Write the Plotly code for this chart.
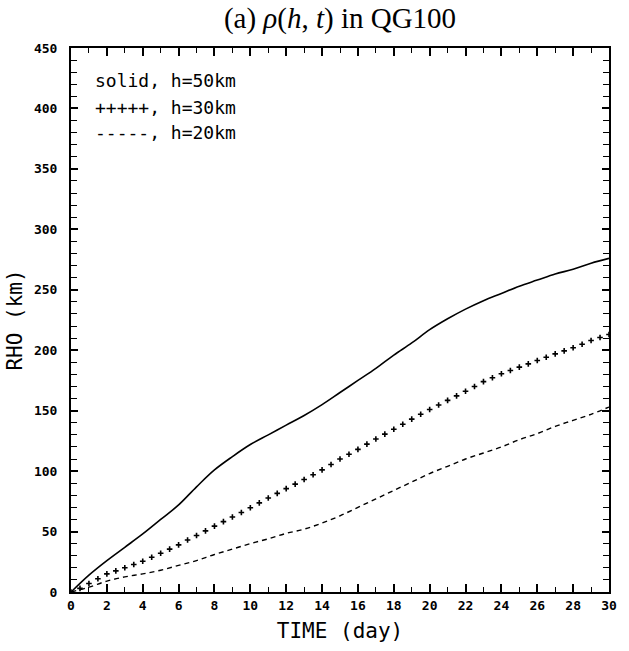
import plotly.graph_objects as go

# Data
t_days = list(range(0, 31))
rho_h50 = [0, 14, 26, 37, 48, 60, 72, 87, 101, 112, 122, 130, 138, 146, 155, 165,
           175, 185, 196, 206, 217, 226, 234, 241, 247, 253, 258, 263, 267, 272, 276]
rho_h20 = [0, 4, 9, 12.5, 15, 18, 22, 26, 31, 35.5, 40, 44, 48.5, 52, 57, 63,
           70, 77, 84, 91, 98, 104, 110, 115, 120, 126, 131, 137, 142, 147, 153]
t_half = [i * 0.5 for i in range(61)]
rho_h30 = [0, 3, 7, 11, 15, 17.5, 20, 22.7, 25.4, 28.7, 32, 35.5, 39, 43, 46.7, 50.6,
           54.5, 58.2, 62, 65.8, 69.7, 73.7, 77.7, 81.6, 85.5, 89.2, 93, 97, 101, 105.5,
           110, 114, 118, 122.3, 126.6, 130.6, 134.6, 138.8, 143, 147, 151, 154.7, 158.5,
           162.2, 166, 170, 174, 177.2, 180.5, 183.2, 186, 188.7, 191.5, 194.2, 197,
           199.5, 202, 205, 208, 210.5, 213]

legend_lines = ["solid, h=50km", "+++++, h=30km", "-----, h=20km"]
legend_y = [423, 401, 380]

fig = go.Figure()
fig.add_trace(go.Scatter(x=t_days, y=rho_h50, mode="lines",
                         line=dict(color="black", width=1.6), line_shape="spline"))
fig.add_trace(go.Scatter(x=t_half, y=rho_h30, mode="markers",
                         marker=dict(symbol="cross-thin", size=4, color="black",
                                     line=dict(color="black", width=1.6))))
fig.add_trace(go.Scatter(x=t_days, y=rho_h20, mode="lines", line_shape="spline",
                         line=dict(color="black", width=1.4, dash="5px,4px")))

for txt, yy in zip(legend_lines, legend_y):
    fig.add_annotation(x=1.2, y=yy, xref="x", yref="y", text=txt, showarrow=False,
                       xanchor="left", yanchor="middle",
                       font=dict(family="DejaVu Sans Mono", size=18, color="black"))

tickfont = dict(family="DejaVu Sans Mono", size=13, color="black", weight="bold")
fig.update_layout(
    width=629, height=651,
    margin=dict(l=71, r=12, t=48, b=57),
    paper_bgcolor="white", plot_bgcolor="white",
    showlegend=False,
    title=dict(text="(a) <i>ρ</i>(<i>h</i>, <i>t</i>) in QG100", xref="paper", x=0.5,
               xanchor="center", yref="container", y=0.988, yanchor="top",
               font=dict(family="Liberation Serif", size=29, color="black")),
    xaxis=dict(range=[0, 30], tick0=0, dtick=2, ticks="inside", ticklen=8, tickwidth=1.5,
               tickcolor="black", showline=True, linecolor="black", linewidth=2,
               mirror="allticks", showgrid=False, zeroline=False, tickfont=tickfont,
               minor=dict(dtick=1, ticks="inside", ticklen=5, tickcolor="black", tickwidth=1),
               title=dict(text="TIME (day)", standoff=12,
                          font=dict(family="DejaVu Sans Mono", size=21, color="black"))),
    yaxis=dict(range=[0, 450], tick0=0, dtick=50, ticks="inside", ticklen=7, tickwidth=1.5,
               tickcolor="black", showline=True, linecolor="black", linewidth=2,
               mirror="allticks", showgrid=False, zeroline=False, tickfont=tickfont,
               ticklabelstandoff=9,
               minor=dict(dtick=10, ticks="inside", ticklen=6, tickcolor="black", tickwidth=1),
               title=dict(text="RHO (km)", standoff=6,
                          font=dict(family="DejaVu Sans Mono", size=21, color="black"))),
)

fig.write_html("out.html")
